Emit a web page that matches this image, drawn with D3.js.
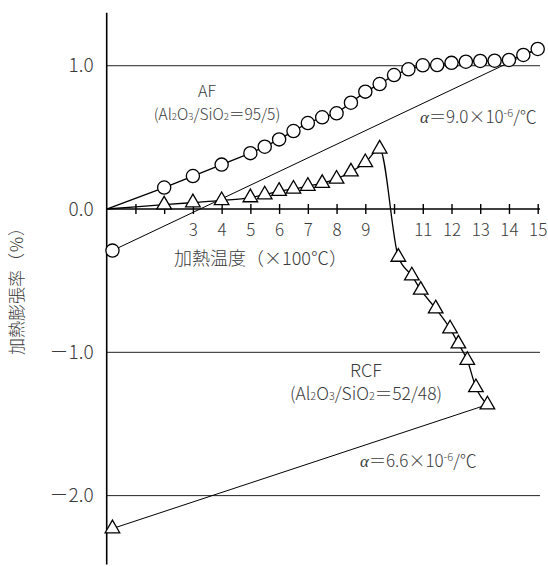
<!DOCTYPE html>
<html lang="ja">
<head>
<meta charset="UTF-8"/>
<title>加熱膨張率</title>
<script src="https://d3js.org/d3.v7.min.js"></script>
<style>
  body { margin: 0; background: #fff; }
  text { font-family: "Noto Sans CJK JP", "Noto Sans", sans-serif; font-weight: 300; fill: #3a3a3a; }
  .alpha { font-family: "Liberation Serif", "DejaVu Serif", serif; font-style: italic; }
</style>
</head>
<body>
<script>
    // Data (temperature in x100 deg C, expansion in %)
    var afX   = [2, 3, 4, 5, 5.5, 6, 6.5, 7, 7.5, 8, 8.5, 9, 9.5, 10, 10.5, 11, 11.5, 12, 12.5, 13, 13.5, 14, 14.5, 15];
    var afY   = [0.15, 0.23, 0.31, 0.39, 0.435, 0.486, 0.544, 0.60, 0.64, 0.668, 0.742, 0.819, 0.872, 0.935, 0.975, 1.003, 1.005, 1.02, 1.028, 1.033, 1.035, 1.04, 1.075, 1.117];
    var afCooled = [0.2, -0.29];

    var rcfX  = [2, 3, 4, 5, 5.5, 6, 6.5, 7, 7.5, 8, 8.5, 9, 9.5, 10.15, 10.62, 10.93, 11.45, 11.95, 12.24, 12.55, 12.85, 13.25];
    var rcfY  = [0.03, 0.045, 0.06, 0.08, 0.1, 0.125, 0.14, 0.16, 0.18, 0.21, 0.26, 0.325, 0.42, -0.335, -0.465, -0.565, -0.695, -0.835, -0.94, -1.055, -1.245, -1.365];
    var rcfCooled = [0.2, -2.23];

    var origin = [0, 0];
    var xTicks = d3.range(1, 16);
    var xHidden = [1, 2, 10];
    var yTicks = [1, 0, -1, -2];

    var W = 548, H = 566;

    var x = d3.scaleLinear().domain([0, 15]).range([106.7, 537.7]);
    var y = d3.scaleLinear().domain([-2.48, 1.37]).range([564.4, 12.7]);

    var svg = d3.select("body").append("svg")
        .attr("width", W)
        .attr("height", H);

    // grid lines
    svg.append("g").selectAll("line")
        .data(yTicks.filter(function(d) { return d !== 0; }))
        .enter().append("line")
        .attr("x1", x(0)).attr("x2", x(15.08))
        .attr("y1", function(d) { return y(d); })
        .attr("y2", function(d) { return y(d); })
        .attr("stroke", "#222")
        .attr("stroke-width", 1);

    // y axis
    var yAxis = d3.axisLeft(y)
        .tickValues(yTicks)
        .tickSize(0)
        .tickPadding(13)
        .tickFormat(function(d) { return (d < 0 ? "\uFF0D" : "") + Math.abs(d).toFixed(1); });
    var gy = svg.append("g")
        .attr("transform", "translate(" + x(0) + ",0)")
        .call(yAxis);
    gy.select(".domain").remove();
    gy.selectAll("text").style("font-size", "19px").attr("fill", "#3a3a3a");
    svg.append("line")
        .attr("x1", x(0)).attr("x2", x(0))
        .attr("y1", y(1.37)).attr("y2", y(-2.48))
        .attr("stroke", "#000").attr("stroke-width", 1.6);

    // x axis along y = 0
    var xAxis = d3.axisBottom(x)
        .tickValues(xTicks)
        .tickSizeInner(5)
        .tickSizeOuter(0)
        .tickFormat(function(d) { return xHidden.indexOf(d) >= 0 ? "" : d; });
    var gx = svg.append("g")
        .attr("transform", "translate(0," + y(0) + ")")
        .call(xAxis);
    gx.select(".domain").remove();
    gx.selectAll(".tick line").attr("y1", -5).attr("y2", 5).attr("stroke", "#000").attr("stroke-width", 1.4);
    gx.selectAll(".tick text").attr("y", 27).attr("dy", 0).style("font-size", "17px").attr("fill", "#3a3a3a");
    svg.append("line")
        .attr("x1", x(0)).attr("x2", x(15.08))
        .attr("y1", y(0)).attr("y2", y(0))
        .attr("stroke", "#000").attr("stroke-width", 1.6);

    // cooling lines
    svg.append("line")
        .attr("x1", x(afCooled[0])).attr("y1", y(afCooled[1]))
        .attr("x2", x(afX[afX.length - 1])).attr("y2", y(afY[afY.length - 1]))
        .attr("stroke", "#000").attr("stroke-width", 1);
    svg.append("line")
        .attr("x1", x(rcfCooled[0])).attr("y1", y(rcfCooled[1]))
        .attr("x2", x(rcfX[rcfX.length - 1])).attr("y2", y(rcfY[rcfY.length - 1]))
        .attr("stroke", "#000").attr("stroke-width", 1);

    // heating curves
    var af = afX.map(function(d, i) { return [d, afY[i]]; });
    var rcf = rcfX.map(function(d, i) { return [d, rcfY[i]]; });

    var line = d3.line()
        .x(function(d) { return x(d[0]); })
        .y(function(d) { return y(d[1]); });

    svg.append("path")
        .attr("d", line([origin].concat(af)))
        .attr("fill", "none").attr("stroke", "#000").attr("stroke-width", 1.3);
    svg.append("path")
        .attr("d", line.curve(d3.curveMonotoneX)([origin].concat(rcf)))
        .attr("fill", "none").attr("stroke", "#000").attr("stroke-width", 1.3);

    // markers
    svg.append("g").selectAll("circle")
        .data(af.concat([afCooled]))
        .enter().append("circle")
        .attr("cx", function(d) { return x(d[0]); })
        .attr("cy", function(d) { return y(d[1]); })
        .attr("r", 6.6)
        .attr("fill", "#fff")
        .attr("stroke", "#000")
        .attr("stroke-width", 1.3);

    var tri = d3.symbol().type(d3.symbolTriangle).size(92);
    svg.append("g").selectAll("path")
        .data(rcf.concat([rcfCooled]))
        .enter().append("path")
        .attr("d", tri)
        .attr("transform", function(d) { return "translate(" + x(d[0]) + "," + y(d[1]) + ")"; })
        .attr("fill", "#fff")
        .attr("stroke", "#000")
        .attr("stroke-width", 1.3);

    // axis titles
    svg.append("text")
        .attr("x", 174).attr("y", 265)
        .style("font-size", "18px")
        .text("加熱温度（×100℃）");
    svg.append("text")
        .attr("transform", "translate(23,287) rotate(-90)")
        .attr("text-anchor", "middle")
        .style("font-size", "17px")
        .text("加熱膨張率（％）");

    // annotations
    function ratio(g, cx, cy, size, a, b) {
        var t = g.append("text")
            .attr("x", cx).attr("y", cy)
            .attr("text-anchor", "middle")
            .style("font-size", size + "px");
        t.append("tspan").text("(Al");
        t.append("tspan").style("font-size", (size * 0.62) + "px").text("2");
        t.append("tspan").text("O");
        t.append("tspan").style("font-size", (size * 0.62) + "px").text("3");
        t.append("tspan").text("/SiO");
        t.append("tspan").style("font-size", (size * 0.62) + "px").text("2");
        t.append("tspan").text("＝" + a + "/" + b + ")");
    }
    function alpha(g, x0, y0, val) {
        var t = g.append("text")
            .attr("x", x0).attr("y", y0)
            .style("font-size", "17px");
        t.append("tspan").attr("class", "alpha").text("α");
        t.append("tspan").text("＝" + val + "×10");
        t.append("tspan").attr("dy", -6).style("font-size", "11px").text("-6");
        t.append("tspan").attr("dy", 6).text("/℃");
    }

    svg.append("text")
        .attr("x", 207).attr("y", 97)
        .attr("text-anchor", "middle")
        .style("font-size", "16px")
        .text("AF");
    ratio(svg, 217, 120, 15.5, 95, 5);
    alpha(svg, 420, 123, "9.0");

    svg.append("text")
        .attr("x", 366).attr("y", 377)
        .attr("text-anchor", "middle")
        .style("font-size", "18px")
        .text("RCF");
    ratio(svg, 366, 400, 17.5, 52, 48);
    alpha(svg, 360, 467, "6.6");
</script>
</body>
</html>
